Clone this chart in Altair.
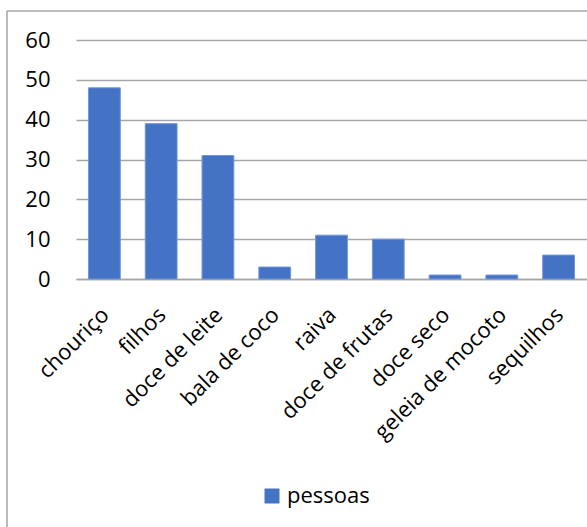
import altair as alt
import pandas as pd

categories = ["chouriço", "filhos", "doce de leite", "bala de coco", "raiva",
              "doce de frutas", "doce seco", "geleia de mocoto", "sequilhos"]
values = [48, 39, 31, 3, 11, 10, 1, 1, 6]
series_name = "pessoas"
y_ticks = [0, 10, 20, 30, 40, 50, 60]

df = pd.DataFrame({"categoria": categories, "valor": values,
                   "serie": [series_name] * len(categories)})

FONT = "Open Sans"
FS = 22
GRID = "#a6a6a6"
TXT = "#000000"

bars = alt.Chart(df).mark_bar(stroke="#7396d8", strokeWidth=1).encode(
    x=alt.X("categoria:N", sort=categories,
            scale=alt.Scale(paddingInner=0.44, paddingOuter=0.22),
            axis=alt.Axis(title=None, labelAngle=-45, labelAlign="right",
                          labelBaseline="middle", labelFontSize=FS, labelFont=FONT,
                          labelColor=TXT, ticks=False, domainColor=GRID,
                          domainWidth=1.5, labelPadding=32, labelOffset=1,
                          labelLimit=300)),
    y=alt.Y("valor:Q", scale=alt.Scale(domain=[0, 60]),
            axis=alt.Axis(title=None, values=y_ticks, ticks=False, domain=False,
                          gridColor=GRID, gridWidth=1.5, labelPadding=26,
                          labelFontSize=FS, labelFont=FONT, labelColor=TXT)),
    color=alt.Color("serie:N", scale=alt.Scale(range=["#4472C4"]),
                    legend=alt.Legend(title=None, orient="none", legendX=185,
                                      legendY=445, symbolType="square",
                                      symbolSize=225, symbolStrokeWidth=0,
                                      labelFontSize=FS, labelFont=FONT,
                                      labelColor=TXT, labelOffset=4)),
)

frame_src = alt.Chart(pd.DataFrame({"k": [0]}))
left_line = frame_src.mark_rule(color=GRID, strokeWidth=1.5).encode(
    x=alt.value(-69), y=alt.value(-29), y2=alt.value(700))
top_line = frame_src.mark_rule(color=GRID, strokeWidth=1.5).encode(
    x=alt.value(-69), x2=alt.value(700), y=alt.value(-29))

chart = alt.layer(bars, left_line, top_line).properties(
    width=511, height=239,
    autosize=alt.AutoSizeParams(type="none"),
    padding={"left": 76, "top": 40, "right": 0, "bottom": 248},
    background="white",
).configure_view(stroke=None)

chart.save("out.html", embed_options={"renderer": "svg", "actions": False})
